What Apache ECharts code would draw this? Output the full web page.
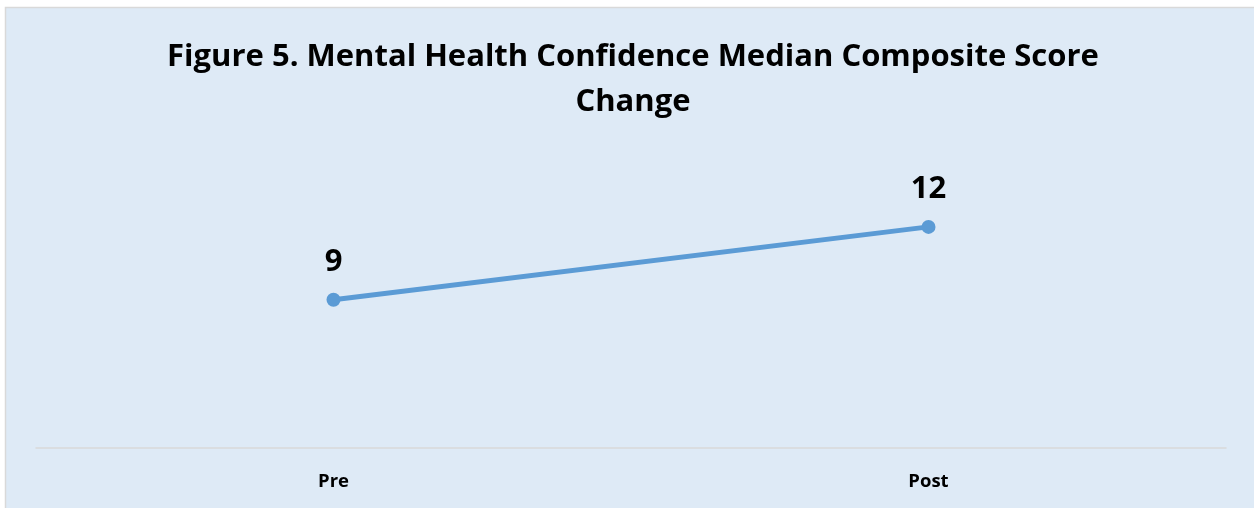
<!DOCTYPE html>
<html>
<head>
<meta charset="utf-8">
<script src="https://cdn.jsdelivr.net/npm/echarts@6/dist/echarts.min.js"></script>
<style>
  html, body { margin: 0; padding: 0; background: #fff; }
  #chart { width: 1254px; height: 508px; }
</style>
</head>
<body>
<div id="chart"></div>
<script>
// chart data
const categories = ['Pre', 'Post'];
const medianScores = [9, 12];
const titleText = 'Figure 5. Mental Health Confidence Median Composite Score\nChange';

const chart = echarts.init(document.getElementById('chart'));

chart.setOption({
  backgroundColor: '#ffffff',
  animation: false,
  graphic: [{
    type: 'rect',
    z: -10,
    shape: { x: 5.5, y: 7.5, width: 1260, height: 520 },
    style: { fill: '#DEEAF6', stroke: '#D9D9D9', lineWidth: 1.5 }
  }],
  title: {
    text: titleText,
    left: 628,
    textAlign: 'center',
    top: 30,
    textStyle: {
      fontFamily: 'Open Sans',
      fontWeight: 'bold',
      fontSize: 31,
      lineHeight: 45,
      color: '#000'
    }
  },
  // y range picked so the axis line sits at ~2.9, where the original puts it
  grid: { left: 36, right: 28, top: 154, bottom: 60 },
  xAxis: {
    type: 'category',
    data: categories,
    boundaryGap: true,
    axisLine: { lineStyle: { color: '#D9D9D9', width: 1.5 } },
    axisTick: { show: false },
    axisLabel: {
      margin: 24,
      fontFamily: 'Open Sans',
      fontWeight: 'bold',
      fontSize: 18.5,
      color: '#000'
    }
  },
  yAxis: {
    type: 'value',
    min: 2.9,
    max: 15,
    show: false,
    splitLine: { show: false }
  },
  series: [{
    type: 'line',
    data: medianScores,
    symbol: 'circle',
    symbolSize: 14,
    lineStyle: { color: '#5B9BD5', width: 5 },
    itemStyle: { color: '#5B9BD5' },
    label: {
      show: true,
      position: 'top',
      distance: 15,
      fontFamily: 'Open Sans',
      fontWeight: 'bold',
      fontSize: 31,
      color: '#000'
    }
  }]
});
</script>
</body>
</html>
